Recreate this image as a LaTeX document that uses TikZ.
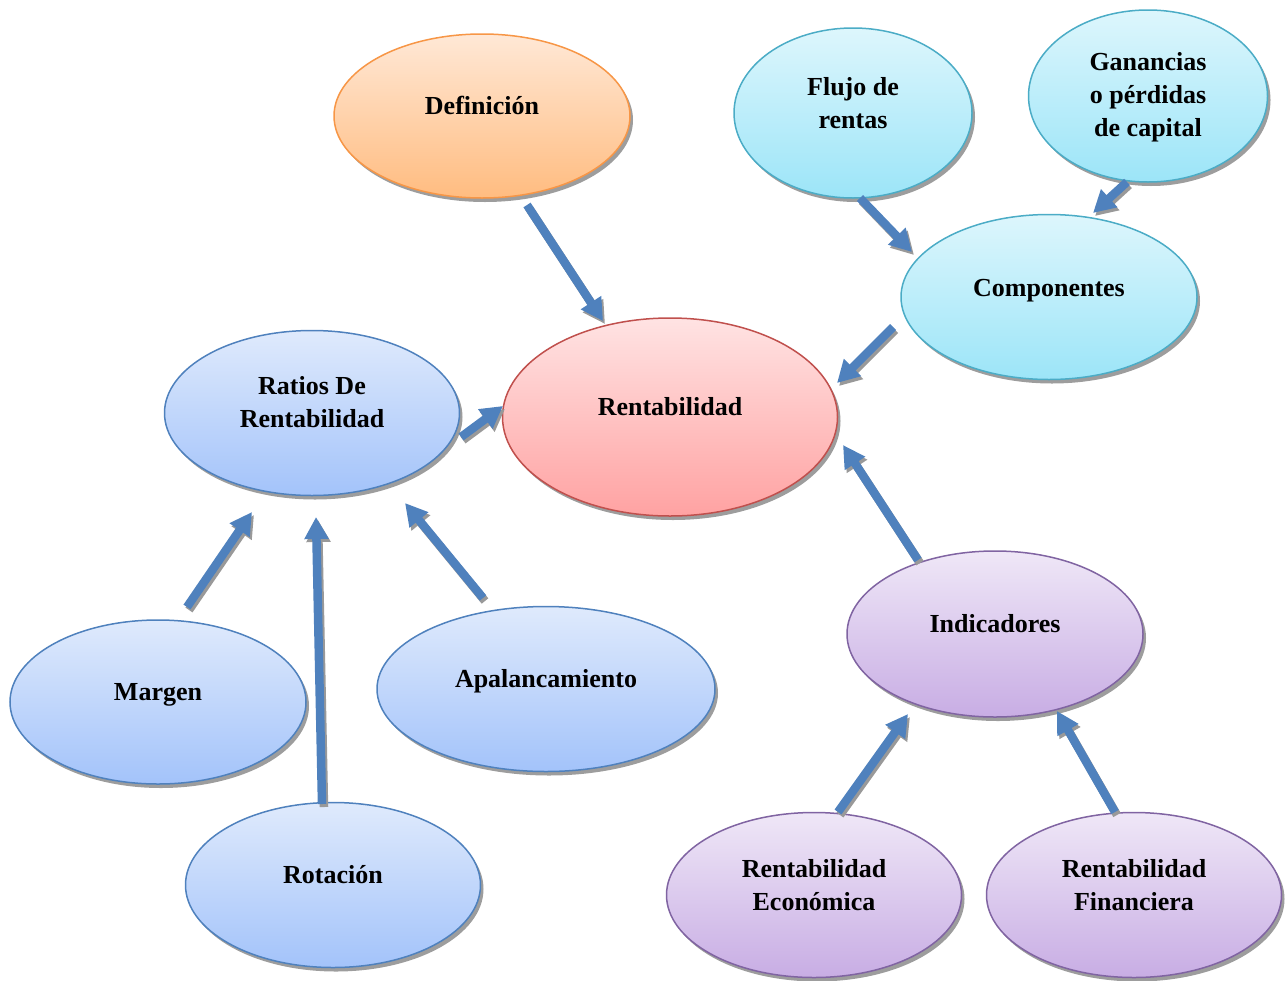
\documentclass[tikz,border=0pt]{standalone}
\usepackage{fontspec}
\setmainfont{Liberation Serif}
\usetikzlibrary{shapes.geometric,shadows,arrows.meta}
\definecolor{arrblue}{HTML}{4F81BD}
\definecolor{orB}{HTML}{F79646}\definecolor{orT}{HTML}{FFE8D6}\definecolor{orD}{HTML}{FFBC80}
\definecolor{cyB}{HTML}{4BACC6}\definecolor{cyT}{HTML}{DDF6FC}\definecolor{cyD}{HTML}{9CE5F8}
\definecolor{rdB}{HTML}{C0504D}\definecolor{rdT}{HTML}{FFE3E3}\definecolor{rdD}{HTML}{FFA2A2}
\definecolor{blB}{HTML}{4F81BD}\definecolor{blT}{HTML}{DFEAFC}\definecolor{blD}{HTML}{A3C3FA}
\definecolor{puB}{HTML}{8064A2}\definecolor{puT}{HTML}{EFE7F7}\definecolor{puD}{HTML}{C8ADE4}
\newcommand\blockarrow[2]{%
  \draw[arrsh] (#1) -- (#2);
  \draw[arr] (#1) -- (#2);}
\begin{document}
\begin{tikzpicture}[x=1pt,y=-1pt,
  bub/.style={ellipse, inner sep=0pt, line width=1.5pt,
    drop shadow={shadow xshift=3pt, shadow yshift=-4pt, fill=black!55, opacity=0.7}},
  orng/.style={bub, draw=orB, top color=orT, bottom color=orD},
  cyan/.style={bub, draw=cyB, top color=cyT, bottom color=cyD},
  redb/.style={bub, draw=rdB, top color=rdT, bottom color=rdD},
  blue/.style={bub, draw=blB, top color=blT, bottom color=blD},
  purp/.style={bub, draw=puB, top color=puT, bottom color=puD},
  txt/.style={align=center, inner sep=0pt, font=\fontsize{26}{33}\selectfont\bfseries},
  arr/.style={line width=8.5pt, draw=arrblue, -{Triangle[width=23pt,length=22pt]}},
  arrsh/.style={arr, draw=black!40, transform canvas={shift={(2pt,-3pt)}}}
]
\useasboundingbox (0,0) rectangle (1287,980);

\node[orng, minimum width=296pt, minimum height=164pt,
  label={[txt,yshift=11pt]center:Definición}] (def) at (482,116) {};
\node[cyan, minimum width=238pt, minimum height=170pt,
  label={[txt,yshift=10pt]center:{Flujo de\\rentas}}] (flujo) at (853,113) {};
\node[cyan, minimum width=239pt, minimum height=172pt,
  label={[txt,yshift=-1pt]center:{Ganancias\\o pérdidas\\de capital}}] (gan) at (1148,96) {};
\node[cyan, minimum width=296pt, minimum height=165pt,
  label={[txt,yshift=6pt]center:Componentes}] (comp) at (1049,297) {};
\node[redb, minimum width=335pt, minimum height=198pt,
  label={[txt,yshift=10pt]center:Rentabilidad}] (rent) at (670,417) {};
\node[blue, minimum width=295pt, minimum height=165pt,
  label={[txt,yshift=11pt]center:{Ratios De\\Rentabilidad}}] (ratios) at (312,413) {};
\node[blue, minimum width=296pt, minimum height=164pt,
  label={[txt,yshift=7pt]center:Margen}] (margen) at (158,702) {};
\node[blue, minimum width=338pt, minimum height=165pt,
  label={[txt,yshift=8pt]center:Apalancamiento}] (apal) at (546,689) {};
\node[blue, minimum width=295pt, minimum height=165pt,
  label={[txt,yshift=10pt]center:Rotación}] (rot) at (333,885) {};
\node[purp, minimum width=296pt, minimum height=166pt,
  label={[txt,yshift=10pt]center:Indicadores}] (ind) at (995,634) {};
\node[purp, minimum width=295pt, minimum height=165pt,
  label={[txt,yshift=10pt]center:{Rentabilidad\\Económica}}] (eco) at (814,895) {};
\node[purp, minimum width=295pt, minimum height=165pt,
  label={[txt,yshift=10pt]center:{Rentabilidad\\Financiera}}] (fin) at (1134,895) {};

% connector end points
\coordinate (def-o) at (527,205);   \coordinate (rent-i1) at (603,321);
\coordinate (flujo-o) at (860,198); \coordinate (comp-i1) at (912,252);
\coordinate (gan-o) at (1127,182);  \coordinate (comp-i2) at (1093,213);
\coordinate (comp-o) at (893,327);  \coordinate (rent-i2) at (837,383);
\coordinate (ind-o) at (918,560);   \coordinate (rent-i3) at (843,445);
\coordinate (ratios-o) at (461,437);\coordinate (rent-i4) at (503,406);
\coordinate (margen-o) at (187,607);\coordinate (ratios-i1) at (252,512);
\coordinate (rot-o) at (322,804);   \coordinate (ratios-i2) at (316,517);
\coordinate (apal-o) at (483,598);  \coordinate (ratios-i3) at (405,503);
\coordinate (eco-o) at (838,812);   \coordinate (ind-i1) at (908,714);
\coordinate (fin-o) at (1115,812);  \coordinate (ind-i2) at (1057,711);

\blockarrow{def-o}{rent-i1}
\blockarrow{flujo-o}{comp-i1}
\blockarrow{gan-o}{comp-i2}
\blockarrow{comp-o}{rent-i2}
\blockarrow{ind-o}{rent-i3}
\blockarrow{ratios-o}{rent-i4}
\blockarrow{margen-o}{ratios-i1}
\blockarrow{rot-o}{ratios-i2}
\blockarrow{apal-o}{ratios-i3}
\blockarrow{eco-o}{ind-i1}
\blockarrow{fin-o}{ind-i2}
\end{tikzpicture}
\end{document}
